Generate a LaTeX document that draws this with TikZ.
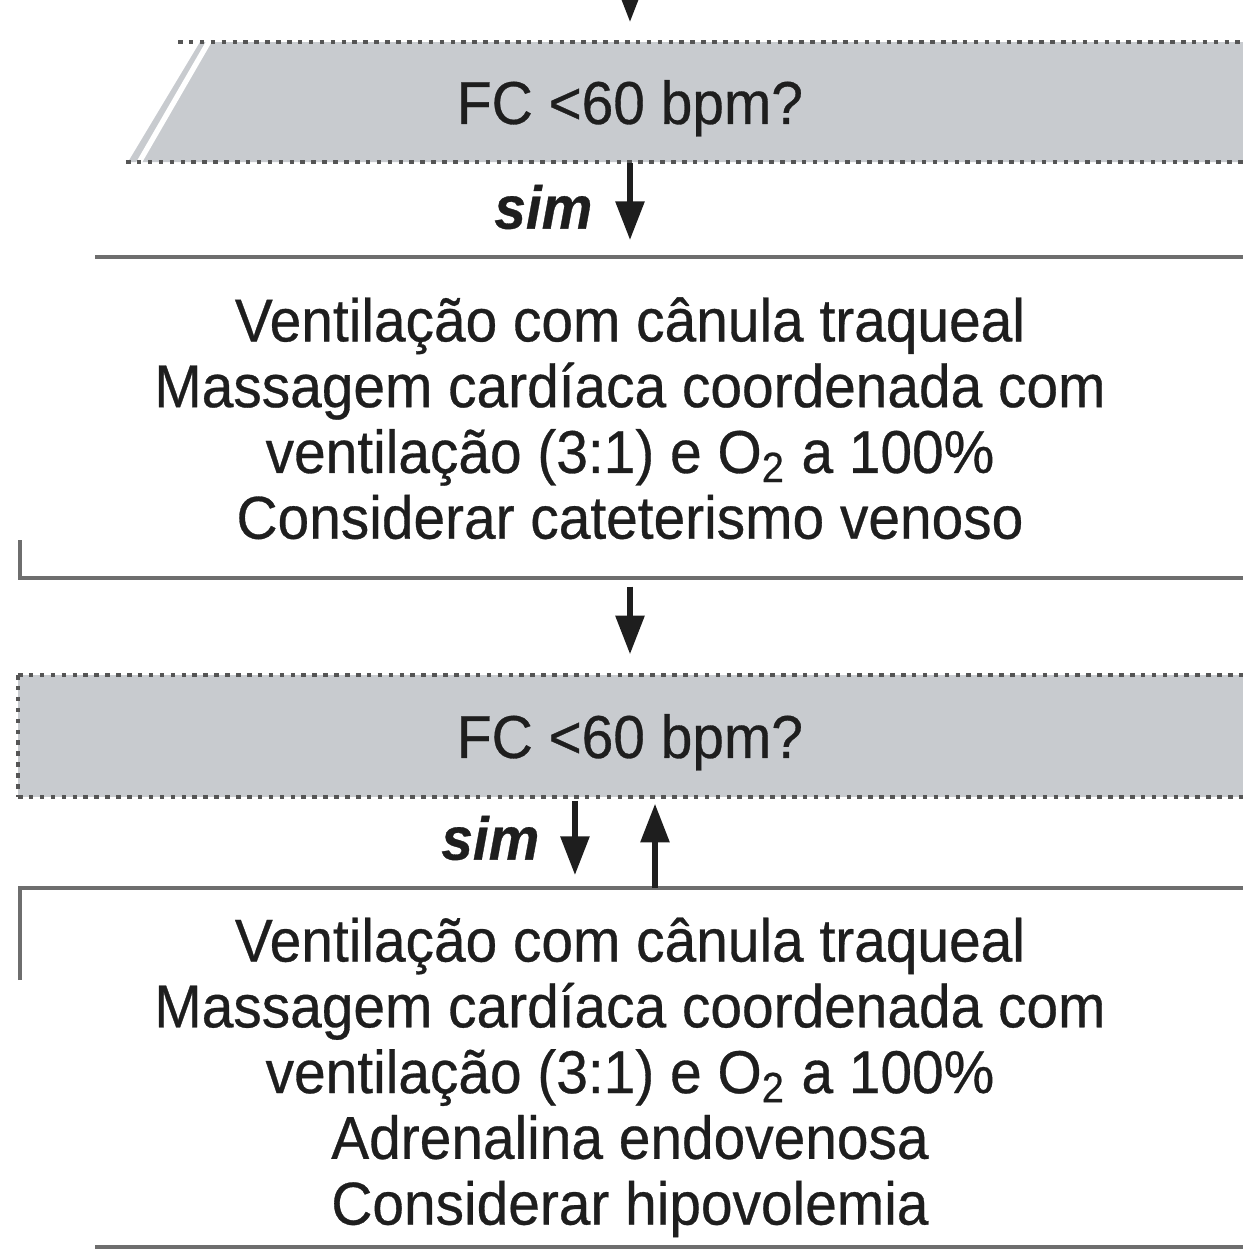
\documentclass[tikz,border=0pt]{standalone}
\usepackage{fontspec}
\setmainfont[FakeStretch=0.94, FakeBold=0.5]{Liberation Sans}
\usetikzlibrary{arrows.meta}
\definecolor{bandgray}{RGB}{200,203,207}
\definecolor{dotgray}{RGB}{85,85,85}
\definecolor{rulegray}{RGB}{110,110,110}
\definecolor{ink}{RGB}{30,30,30}
\tikzset{
  txt/.style={font=\fontsize{17.2}{18.7}\selectfont, text=ink, align=center, inner sep=0pt},
  qtxt/.style={txt, text depth=0pt, minimum height=1.2cm},
  simtxt/.style={font=\fontsize{17.2}{18.6}\selectfont\bfseries\itshape, text=ink, inner sep=0pt},
  dotline/.style={dotgray, line width=0.9pt, dash pattern=on 1.3pt off 1.8pt},
  rule/.style={rulegray, line width=1pt},
  arr/.style={ink, line width=1.6pt, -{Triangle[length=11pt,width=8pt]}},
}
\begin{document}
\begin{tikzpicture}[x=0.01cm,y=-0.01cm]
\useasboundingbox (0,0) rectangle (1243,1250);
% band 1
\fill[bandgray] (200,42) -- (1243,42) -- (1243,162) -- (128,162) -- cycle;
\draw[white, line width=1.5pt] (211,38) -- (137,166);
\draw[dotline] (178,42) -- (1243,42);
\draw[dotline] (126,162) -- (1243,162);
% band 2
\fill[bandgray] (18,675) rectangle (1243,797);
\draw[dotline] (18,675) -- (1243,675);
\draw[dotline] (18,797) -- (1243,797);
\draw[dotline] (18,675) -- (18,797);
% rules
\draw[rule] (95,257) -- (1243,257);
\draw[rule] (20,540) -- (20,578) -- (1243,578);
\draw[rule] (20,980) -- (20,888) -- (1243,888);
\draw[rule] (95,1247) -- (1243,1247);

% nodes
\node[qtxt] (q1) at (630,102) {FC <60 bpm?};
\node[txt, anchor=north, minimum height=3.21cm] (a1) at (630,257)
  {Ventilação com cânula traqueal\\
   Massagem cardíaca coordenada com\\
   ventilação (3:1) e O\textsubscript{2} a 100\%\\
   Considerar cateterismo venoso};
\node[qtxt, minimum height=1.22cm] (q2) at (630,736) {FC <60 bpm?};
\node[txt, anchor=north, minimum height=3.77cm] (a2) at (630,888)
  {Ventilação com cânula traqueal\\
   Massagem cardíaca coordenada com\\
   ventilação (3:1) e O\textsubscript{2} a 100\%\\
   Adrenalina endovenosa\\
   Considerar hipovolemia};
\node[simtxt, anchor=east] (s1) at (593,207) {sim};
\node[simtxt, anchor=east] (s2) at (540,838) {sim};

% connectors
\coordinate (top) at (630,-10);
\coordinate (topend) at (630,22);
\draw[arr] (top) -- (topend);
\draw[arr, shorten >=0.17cm] (q1.south) -- (a1.north);
\draw[arr, shorten <=0.07cm, shorten >=0.2cm] (a1.south) -- (q2.north);
\draw[arr, shorten <=0.03cm, shorten >=0.13cm] ([xshift=-0.55cm]q2.south) -- ([xshift=-0.55cm]a2.north);
\draw[arr, shorten >=0.06cm] ([xshift=0.25cm]a2.north) -- ([xshift=0.25cm]q2.south);
\end{tikzpicture}
\end{document}
